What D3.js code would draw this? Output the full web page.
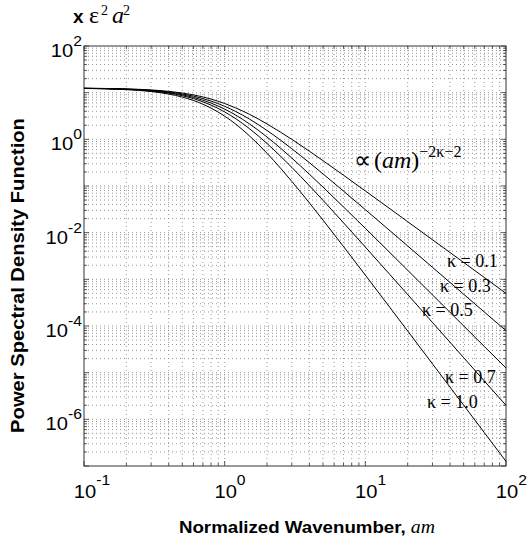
<!DOCTYPE html>
<html><head><meta charset="utf-8">
<script src="https://cdn.jsdelivr.net/npm/d3@7"></script>
<style>body{margin:0;background:#fff}svg{display:block}</style>
</head><body>
<script>
// ---- data ----
const wavenumber = [0.1,0.2,0.3,0.4,0.5,0.6,0.7,0.8,1,1.2,1.5,2,2.5,3,4,5,7,10,15,20,30,50,70,100];
const kappaLabels = ["κ = 0.1","κ = 0.3","κ = 0.5","κ = 0.7","κ = 1.0"];
const psdK01 = [12.43,12.04,11.43,10.67,9.83,8.96,8.11,7.29,5.86,4.71,3.44,2.14,1.42,0.998,0.557,0.349,0.170,0.0784,0.0323,0.0172,0.00706,0.00230,0.00110,0.000500];
const psdK03 = [12.41,11.94,11.23,10.36,9.40,8.43,7.48,6.61,5.10,3.94,2.72,1.55,0.957,0.630,0.316,0.182,0.0777,0.0311,0.01094,0.00519,0.00181,0.000480,0.000200,0.0000793];
const psdK05 = [12.38,11.85,11.04,10.06,8.99,7.92,6.91,5.98,4.44,3.30,2.14,1.124,0.644,0.397,0.179,0.0948,0.0355,0.01238,0.00370,0.001565,0.000465,0.0001005,0.0000366,0.00001257];
const psdK07 = [12.36,11.76,10.85,9.76,8.60,7.45,6.38,5.42,3.87,2.76,1.694,0.815,0.433,0.251,0.1017,0.0494,0.01625,0.00492,0.001251,0.000472,0.0001192,0.0000210,0.00000669,0.000001992];
const psdK10 = [12.32,11.62,10.58,9.34,8.04,6.80,5.66,4.67,3.14,2.11,1.190,0.503,0.239,0.1257,0.0435,0.0186,0.00503,0.001232,0.000246,0.0000781,0.0000155,0.00000201,0.000000523,0.0000001257];
const xTickValues = [0.1,1,10,100];
const xTickExps = ["-1","0","1","2"];
const yTickValues = [1e2,1,1e-2,1e-4,1e-6];
const yTickExps = ["2","0","-2","-4","-6"];

const W = 528, H = 538;
const svg = d3.select("body").append("svg").attr("width",W).attr("height",H);
const L = 84, R = 506, T = 46, B = 466;
const x = d3.scaleLog().domain([0.1,100]).range([L,R]);
const y = d3.scaleLog().domain([1e-7,1e2]).range([B,T]);

// grid
const gx = x.ticks(), gy = y.ticks();
const grid = svg.append("g").attr("stroke","#8a8a8a").attr("stroke-width",0.9).attr("stroke-dasharray","1,3");
grid.selectAll("line.vx").data(gx.filter(d=>d>0.1&&d<100)).join("line")
  .attr("x1",d=>x(d)).attr("x2",d=>x(d)).attr("y1",T).attr("y2",B);
grid.selectAll("line.hy").data(gy.filter(d=>d>1e-7&&d<1e2)).join("line")
  .attr("y1",d=>y(d)).attr("y2",d=>y(d)).attr("x1",L).attr("x2",R);

// ticks (inside, all sides)
const isMajor = v => Math.abs(Math.log10(v) - Math.round(Math.log10(v))) < 1e-6;
const tk = svg.append("g").attr("stroke","#333").attr("stroke-width",0.8);
gx.forEach(v=>{ const len = isMajor(v)?5:3, px = x(v);
  tk.append("line").attr("x1",px).attr("x2",px).attr("y1",B).attr("y2",B-len);
  tk.append("line").attr("x1",px).attr("x2",px).attr("y1",T).attr("y2",T+len);});
gy.forEach(v=>{ const len = isMajor(v)?5:3, py = y(v);
  tk.append("line").attr("y1",py).attr("y2",py).attr("x1",L).attr("x2",L+len);
  tk.append("line").attr("y1",py).attr("y2",py).attr("x1",R).attr("x2",R-len);});

// frame
svg.append("rect").attr("x",L).attr("y",T).attr("width",R-L).attr("height",B-T)
  .attr("fill","none").attr("stroke","#333").attr("stroke-width",1);

// curves
const series = [psdK01,psdK03,psdK05,psdK07,psdK10];
const line = d3.line().x((d,i)=>x(wavenumber[i])).y(d=>y(d)).curve(d3.curveMonotoneX);
svg.append("g").selectAll("path").data(series).join("path")
  .attr("d",line).attr("fill","none").attr("stroke","#000").attr("stroke-width",1);

// tick labels
const sx = 1.12;
xTickValues.forEach((v,i)=>{
  const g = svg.append("g").attr("transform",`translate(${x(v)+1},498) scale(${sx},1)`);
  g.append("text").attr("text-anchor","middle").attr("font-family","'Liberation Sans',Arial,sans-serif")
    .attr("font-size",18).text("10");
  g.append("text").attr("x",10).attr("y",-13).attr("font-family","'Liberation Sans',Arial,sans-serif")
    .attr("font-size",14).text(xTickExps[i]);
});
yTickValues.forEach((v,i)=>{
  const g = svg.append("g").attr("transform",`translate(82,${y(v)+11}) scale(${sx},1)`);
  const t = g.append("text").attr("text-anchor","end").attr("font-family","'Liberation Sans',Arial,sans-serif");
  t.append("tspan").attr("font-size",18).text("10");
  t.append("tspan").attr("font-size",14).attr("dy",-11).text(yTickExps[i]);
});

// axis labels
svg.append("g").attr("transform",`translate(307,533) scale(1.1,1)`).append("text")
  .attr("text-anchor","middle").attr("font-family","'Liberation Sans',Arial,sans-serif")
  .attr("font-weight","bold").attr("font-size",17)
  .call(t=>{ t.append("tspan").text("Normalized Wavenumber, ");
    t.append("tspan").attr("font-family","'Liberation Serif','Times New Roman',serif").attr("font-style","italic").attr("font-weight","normal").attr("font-size",18).text("am");});
svg.append("g").attr("transform",`translate(24,275.5) rotate(-90) scale(1.12,1)`).append("text")
  .attr("text-anchor","middle").attr("font-family","'Liberation Sans',Arial,sans-serif")
  .attr("font-weight","bold").attr("font-size",18).text("Power Spectral Density Function");

// top-left unit label
const u = svg.append("text").attr("y",23).attr("font-family","'Liberation Serif','Times New Roman',serif").attr("font-size",24);
u.append("tspan").attr("x",73).attr("font-family","'Liberation Sans',Arial,sans-serif").attr("font-weight","bold").attr("font-size",19).text("x");
u.append("tspan").attr("x",89).text("ε");
u.append("tspan").attr("x",101).attr("dy",-8).attr("font-size",14).text("2");
u.append("tspan").attr("x",112).attr("dy",8).attr("font-style","italic").text("a");
u.append("tspan").attr("x",123).attr("dy",-8).attr("font-size",14).text("2");

// proportionality annotation
const p = svg.append("text").attr("x",354).attr("y",168).attr("font-family","'Liberation Serif','Times New Roman',serif").attr("font-size",24);
p.append("tspan").attr("font-size",24).attr("font-family","'DejaVu Sans',sans-serif").text("∝");
p.append("tspan").attr("x",374).text("(");
p.append("tspan").attr("font-style","italic").text("am");
p.append("tspan").text(")");
p.append("tspan").attr("dy",-11).attr("font-size",16).text("−2κ−2");

// kappa labels
const kPos = [[447,267],[440,292],[422,316],[445,383],[427,408]];
svg.append("g").selectAll("text").data(kappaLabels).join("text")
  .attr("x",(d,i)=>kPos[i][0]).attr("y",(d,i)=>kPos[i][1])
  .attr("font-family","'Liberation Serif','Times New Roman',serif").attr("font-size",18).text(d=>d);
</script>
</body></html>
